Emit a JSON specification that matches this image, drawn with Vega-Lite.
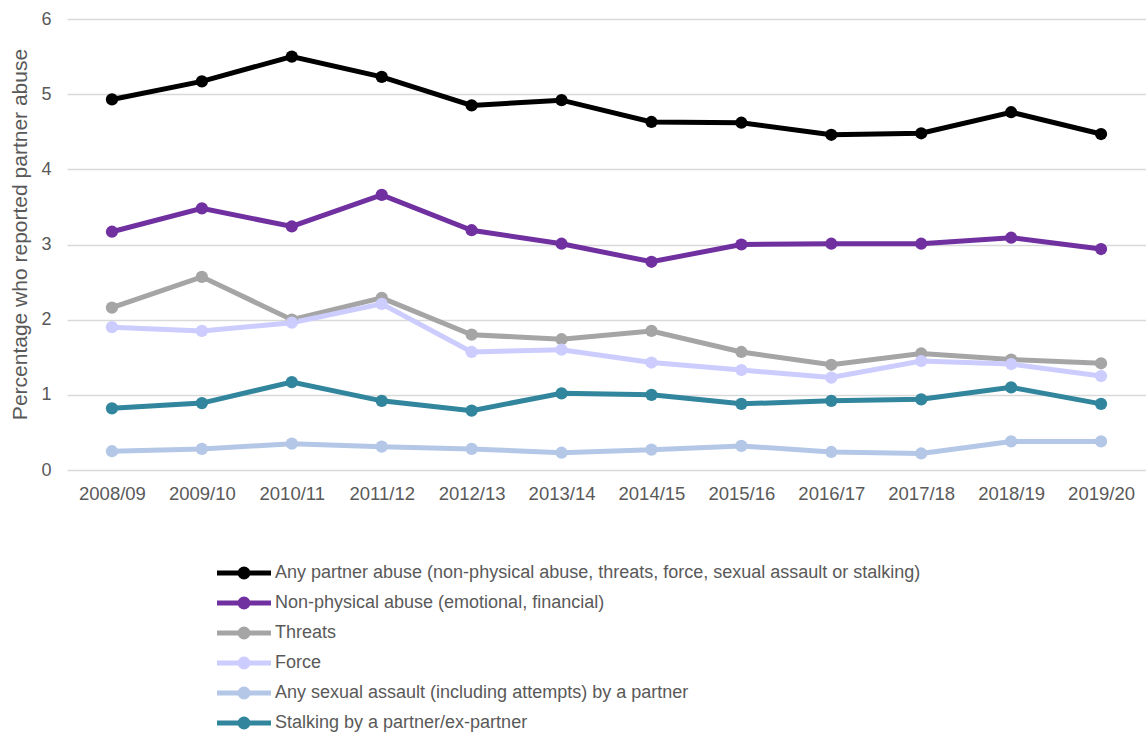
{
  "$schema": "https://vega.github.io/schema/vega-lite/v6.json",
  "width": 1079,
  "height": 451,
  "autosize": {"type": "none"},
  "padding": {"left": 67, "top": 19, "right": 0, "bottom": 265},
  "background": "white",
  "config": {
    "view": {"stroke": null},
    "font": "Liberation Sans",
    "axis": {"labelFont": "Liberation Sans", "titleFont": "Liberation Sans", "labelColor": "#595959", "titleColor": "#595959"},
    "legend": {"labelFont": "Liberation Sans"}
  },
  "data": {
    "values": [
      {"series": "Any partner abuse (non-physical abuse, threats, force, sexual assault or stalking)", "year": "2008/09", "value": 4.93},
      {"series": "Any partner abuse (non-physical abuse, threats, force, sexual assault or stalking)", "year": "2009/10", "value": 5.17},
      {"series": "Any partner abuse (non-physical abuse, threats, force, sexual assault or stalking)", "year": "2010/11", "value": 5.5},
      {"series": "Any partner abuse (non-physical abuse, threats, force, sexual assault or stalking)", "year": "2011/12", "value": 5.23},
      {"series": "Any partner abuse (non-physical abuse, threats, force, sexual assault or stalking)", "year": "2012/13", "value": 4.85},
      {"series": "Any partner abuse (non-physical abuse, threats, force, sexual assault or stalking)", "year": "2013/14", "value": 4.92},
      {"series": "Any partner abuse (non-physical abuse, threats, force, sexual assault or stalking)", "year": "2014/15", "value": 4.63},
      {"series": "Any partner abuse (non-physical abuse, threats, force, sexual assault or stalking)", "year": "2015/16", "value": 4.62},
      {"series": "Any partner abuse (non-physical abuse, threats, force, sexual assault or stalking)", "year": "2016/17", "value": 4.46},
      {"series": "Any partner abuse (non-physical abuse, threats, force, sexual assault or stalking)", "year": "2017/18", "value": 4.48},
      {"series": "Any partner abuse (non-physical abuse, threats, force, sexual assault or stalking)", "year": "2018/19", "value": 4.76},
      {"series": "Any partner abuse (non-physical abuse, threats, force, sexual assault or stalking)", "year": "2019/20", "value": 4.47},
      {"series": "Non-physical abuse (emotional, financial)", "year": "2008/09", "value": 3.17},
      {"series": "Non-physical abuse (emotional, financial)", "year": "2009/10", "value": 3.48},
      {"series": "Non-physical abuse (emotional, financial)", "year": "2010/11", "value": 3.24},
      {"series": "Non-physical abuse (emotional, financial)", "year": "2011/12", "value": 3.66},
      {"series": "Non-physical abuse (emotional, financial)", "year": "2012/13", "value": 3.19},
      {"series": "Non-physical abuse (emotional, financial)", "year": "2013/14", "value": 3.01},
      {"series": "Non-physical abuse (emotional, financial)", "year": "2014/15", "value": 2.77},
      {"series": "Non-physical abuse (emotional, financial)", "year": "2015/16", "value": 3.0},
      {"series": "Non-physical abuse (emotional, financial)", "year": "2016/17", "value": 3.01},
      {"series": "Non-physical abuse (emotional, financial)", "year": "2017/18", "value": 3.01},
      {"series": "Non-physical abuse (emotional, financial)", "year": "2018/19", "value": 3.09},
      {"series": "Non-physical abuse (emotional, financial)", "year": "2019/20", "value": 2.94},
      {"series": "Threats", "year": "2008/09", "value": 2.16},
      {"series": "Threats", "year": "2009/10", "value": 2.57},
      {"series": "Threats", "year": "2010/11", "value": 2.0},
      {"series": "Threats", "year": "2011/12", "value": 2.29},
      {"series": "Threats", "year": "2012/13", "value": 1.8},
      {"series": "Threats", "year": "2013/14", "value": 1.74},
      {"series": "Threats", "year": "2014/15", "value": 1.85},
      {"series": "Threats", "year": "2015/16", "value": 1.57},
      {"series": "Threats", "year": "2016/17", "value": 1.4},
      {"series": "Threats", "year": "2017/18", "value": 1.55},
      {"series": "Threats", "year": "2018/19", "value": 1.47},
      {"series": "Threats", "year": "2019/20", "value": 1.42},
      {"series": "Force", "year": "2008/09", "value": 1.9},
      {"series": "Force", "year": "2009/10", "value": 1.85},
      {"series": "Force", "year": "2010/11", "value": 1.96},
      {"series": "Force", "year": "2011/12", "value": 2.21},
      {"series": "Force", "year": "2012/13", "value": 1.57},
      {"series": "Force", "year": "2013/14", "value": 1.6},
      {"series": "Force", "year": "2014/15", "value": 1.43},
      {"series": "Force", "year": "2015/16", "value": 1.33},
      {"series": "Force", "year": "2016/17", "value": 1.23},
      {"series": "Force", "year": "2017/18", "value": 1.45},
      {"series": "Force", "year": "2018/19", "value": 1.41},
      {"series": "Force", "year": "2019/20", "value": 1.25},
      {"series": "Any sexual assault (including attempts) by a partner", "year": "2008/09", "value": 0.25},
      {"series": "Any sexual assault (including attempts) by a partner", "year": "2009/10", "value": 0.28},
      {"series": "Any sexual assault (including attempts) by a partner", "year": "2010/11", "value": 0.35},
      {"series": "Any sexual assault (including attempts) by a partner", "year": "2011/12", "value": 0.31},
      {"series": "Any sexual assault (including attempts) by a partner", "year": "2012/13", "value": 0.28},
      {"series": "Any sexual assault (including attempts) by a partner", "year": "2013/14", "value": 0.23},
      {"series": "Any sexual assault (including attempts) by a partner", "year": "2014/15", "value": 0.27},
      {"series": "Any sexual assault (including attempts) by a partner", "year": "2015/16", "value": 0.32},
      {"series": "Any sexual assault (including attempts) by a partner", "year": "2016/17", "value": 0.24},
      {"series": "Any sexual assault (including attempts) by a partner", "year": "2017/18", "value": 0.22},
      {"series": "Any sexual assault (including attempts) by a partner", "year": "2018/19", "value": 0.38},
      {"series": "Any sexual assault (including attempts) by a partner", "year": "2019/20", "value": 0.38},
      {"series": "Stalking by a partner/ex-partner", "year": "2008/09", "value": 0.82},
      {"series": "Stalking by a partner/ex-partner", "year": "2009/10", "value": 0.89},
      {"series": "Stalking by a partner/ex-partner", "year": "2010/11", "value": 1.17},
      {"series": "Stalking by a partner/ex-partner", "year": "2011/12", "value": 0.92},
      {"series": "Stalking by a partner/ex-partner", "year": "2012/13", "value": 0.79},
      {"series": "Stalking by a partner/ex-partner", "year": "2013/14", "value": 1.02},
      {"series": "Stalking by a partner/ex-partner", "year": "2014/15", "value": 1.0},
      {"series": "Stalking by a partner/ex-partner", "year": "2015/16", "value": 0.88},
      {"series": "Stalking by a partner/ex-partner", "year": "2016/17", "value": 0.92},
      {"series": "Stalking by a partner/ex-partner", "year": "2017/18", "value": 0.94},
      {"series": "Stalking by a partner/ex-partner", "year": "2018/19", "value": 1.1},
      {"series": "Stalking by a partner/ex-partner", "year": "2019/20", "value": 0.88}
    ]
  },
  "encoding": {
    "x": {
      "field": "year", "type": "ordinal",
      "scale": {"type": "point", "padding": 0.5},
      "axis": {"title": null, "labelAngle": 0, "labelFontSize": 18.5, "labelPadding": 14, "ticks": false, "domain": false, "grid": false}
    },
    "y": {
      "field": "value", "type": "quantitative",
      "scale": {"domain": [0, 6], "nice": false},
      "axis": {
        "title": "Percentage who reported partner abuse",
        "titleFontSize": 21, "titleFontWeight": "normal", "titlePadding": 10, "titleY": 215,
        "values": [0, 1, 2, 3, 4, 5, 6],
        "labelFontSize": 18, "labelPadding": 16, "ticks": false, "domain": false,
        "grid": true, "gridColor": "#D9D9D9", "gridWidth": 1.5
      }
    },
    "color": {
      "field": "series", "type": "nominal",
      "sort": null,
      "scale": {
        "domain": [
          "Any partner abuse (non-physical abuse, threats, force, sexual assault or stalking)",
          "Non-physical abuse (emotional, financial)",
          "Threats",
          "Force",
          "Any sexual assault (including attempts) by a partner",
          "Stalking by a partner/ex-partner"
        ],
        "range": ["#000000", "#7030A0", "#A5A5A5", "#CCCCFF", "#B4C7E7", "#31859C"]
      },
      "legend": {
        "title": null,
        "orient": "none",
        "legendX": 167,
        "legendY": 544,
        "direction": "vertical",
        "padding": 0,
        "symbolType": "M-2.7,-0.25 L2.7,-0.25 L2.7,0.25 L-2.7,0.25 Z M0.65,0 L0.6005,0.2487 L0.4596,0.4596 L0.2487,0.6005 L0,0.65 L-0.2487,0.6005 L-0.4596,0.4596 L-0.6005,0.2487 L-0.65,0 L-0.6005,-0.2487 L-0.4596,-0.4596 L-0.2487,-0.6005 L0,-0.65 L0.2487,-0.6005 L0.4596,-0.4596 L0.6005,-0.2487 Z",
        "symbolSize": 400,
        "symbolStrokeWidth": 0,
        "symbolOpacity": 1,
        "labelFontSize": 18,
        "labelColor": "#595959",
        "labelOffset": 21,
        "labelLimit": 900,
        "rowPadding": 11
      }
    }
  },
  "layer": [
    {"mark": {"type": "line", "strokeWidth": 5}},
    {"mark": {"type": "point", "filled": true, "opacity": 1, "size": 150}}
  ]
}
